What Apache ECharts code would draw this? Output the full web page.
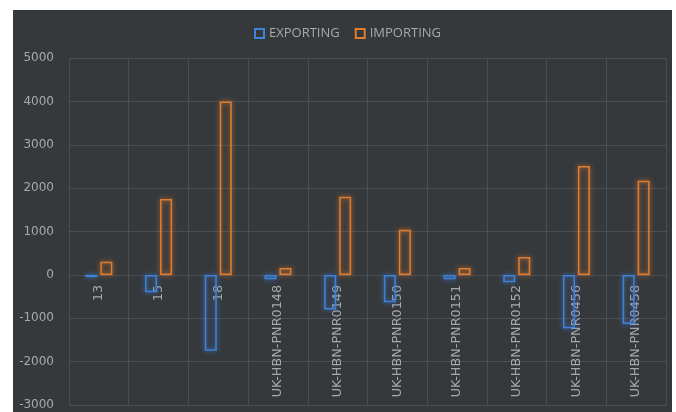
<!DOCTYPE html>
<html>
<head>
<meta charset="utf-8">
<script src="https://cdn.jsdelivr.net/npm/echarts@6/dist/echarts.min.js"></script>
<style>
    html, body { margin: 0; padding: 0; background: #fff; }
    #wrap { position: absolute; left: 13px; top: 10px; width: 659px; height: 402px; background: #36393c; }
    #chart { width: 659px; height: 402px; }
</style>
</head>
<body>
<div id="wrap"><div id="chart"></div></div>
<script>
// 分类与数值
var categories = ['13', '15', '18', 'UK-HBN-PNR0148', 'UK-HBN-PNR0149', 'UK-HBN-PNR0150',
    'UK-HBN-PNR0151', 'UK-HBN-PNR0152', 'UK-HBN-PNR0456', 'UK-HBN-PNR0458'];
var exportingValues = [-50, -400, -1750, -100, -800, -630, -100, -170, -1230, -1130];
var importingValues = [300, 1750, 4000, 160, 1800, 1040, 160, 410, 2510, 2170];
var seriesNames = ['EXPORTING', 'IMPORTING'];

var blue = '#3f82dc';
var orange = '#e27d2f';
var gridColor = '#4b4e52';
var labelColor = '#a8a8a8';

var myChart = echarts.init(document.getElementById('chart'));

function barStyle(c) {
    return {
        color: 'rgba(0,0,0,0)',
        borderColor: c,
        borderWidth: 1.5,
        shadowColor: c,
        shadowBlur: 5
    };
}

// 零轴距底部的偏移（-3000 到 0 共 3 格）
var plotHeight = 402 - 48 - 7;
var zeroOffset = -plotHeight * 3 / 8;

var option = {
    animation: false,
    legend: {
        top: 12,
        left: 236,
        itemWidth: 9,
        itemHeight: 9,
        itemGap: 15,
        icon: 'rect',
        textStyle: {
            color: labelColor,
            fontFamily: 'Open Sans',
            fontSize: 13
        },
        data: seriesNames
    },
    grid: {
        left: 56,
        right: 6,
        top: 48,
        bottom: 7,
        containLabel: false,
        outerBoundsMode: 'none'
    },
    xAxis: {
        type: 'category',
        data: categories,
        offset: zeroOffset,
        axisLine: {
            onZero: false,
            lineStyle: { color: gridColor }
        },
        axisTick: { show: false },
        splitLine: {
            show: true,
            lineStyle: { color: gridColor }
        },
        axisLabel: {
            interval: 0,
            rotate: 90,
            margin: 10,
            hideOverlap: false,
            color: labelColor,
            fontFamily: 'DejaVu Sans',
            fontSize: 12.8
        }
    },
    yAxis: {
        type: 'value',
        min: -3000,
        max: 5000,
        interval: 1000,
        axisLine: { show: false },
        axisTick: { show: false },
        splitLine: {
            lineStyle: { color: gridColor }
        },
        axisLabel: {
            margin: 15,
            color: labelColor,
            fontFamily: 'DejaVu Sans',
            fontSize: 12,
            formatter: function (v) { return String(v); }
        }
    },
    series: [
        {
            name: seriesNames[0],
            type: 'bar',
            data: exportingValues,
            barWidth: 12,
            barGap: '25%',
            itemStyle: barStyle(blue)
        },
        {
            name: seriesNames[1],
            type: 'bar',
            data: importingValues,
            barWidth: 12,
            itemStyle: barStyle(orange)
        }
    ]
};
myChart.setOption(option);
</script>
</body>
</html>
